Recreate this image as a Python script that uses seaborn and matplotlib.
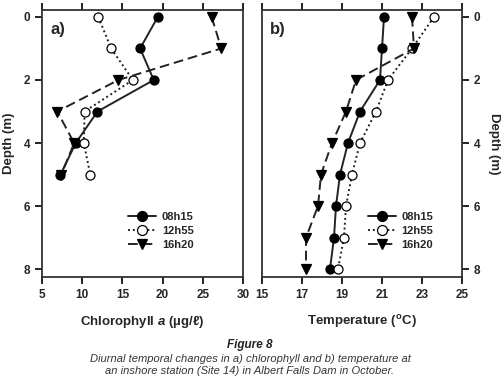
import numpy as np
import pandas as pd
import matplotlib
matplotlib.use("Agg")
import matplotlib.pyplot as plt
import seaborn as sns

sns.set_style("ticks")
plt.rcParams['font.family'] = ['Liberation Sans', 'DejaVu Sans']
plt.rcParams['mathtext.fontset'] = 'custom'
plt.rcParams['mathtext.it'] = 'Liberation Sans:italic:bold'
plt.rcParams['mathtext.rm'] = 'Liberation Sans:bold'

series = ["08h15", "12h55", "16h20"]

chl_depth = [0, 1, 2, 3, 4, 5]
chl_0815 = [19.4, 17.2, 18.9, 11.9, 9.2, 7.3]
chl_1255 = [12.0, 13.6, 16.3, 10.3, 10.2, 11.0]
chl_1620 = [26.1, 27.3, 14.5, 6.9, 9.0, 7.4]

temp_depth = [0, 1, 2, 3, 4, 5, 6, 7, 8]
temp_0815 = [21.1, 21.0, 20.9, 19.9, 19.3, 18.9, 18.7, 18.6, 18.4]
temp_1255 = [23.6, 22.5, 21.3, 20.7, 19.9, 19.5, 19.2, 19.1, 18.8]
temp_1620 = [22.5, 22.6, 19.7, 19.2, 18.5, 17.95, 17.8, 17.2, 17.2]

chl_ticks = [5, 10, 15, 20, 25, 30]
temp_ticks = [15, 17, 19, 21, 23, 25]
depth_ticks = [0, 2, 4, 6, 8]

styles = {
    "08h15": dict(ls='-', marker='o', mfc='black', dashes=None),
    "12h55": dict(ls=':', marker='o', mfc='white', dashes=(1, 1.5)),
    "16h20": dict(ls='--', marker='v', mfc='black', dashes=(5, 2.5)),
}

chl_df = pd.DataFrame({
    "depth": chl_depth * 3,
    "value": chl_0815 + chl_1255 + chl_1620,
    "time": sum([[s] * len(chl_depth) for s in series], []),
})
temp_df = pd.DataFrame({
    "depth": temp_depth * 3,
    "value": temp_0815 + temp_1255 + temp_1620,
    "time": sum([[s] * len(temp_depth) for s in series], []),
})

fig = plt.figure(figsize=(5.03, 3.82), dpi=100)
W, H = 503, 382
ax1 = fig.add_axes([42 / W, 1 - 277 / H, (243 - 42) / W, (277 - 10) / H])
ax2 = fig.add_axes([262 / W, 1 - 277 / H, (462 - 262) / W, (277 - 10) / H])

lc = '#222222'
for ax, df in [(ax1, chl_df), (ax2, temp_df)]:
    for s in series:
        st = styles[s]
        sub = df[df.time == s]
        sns.lineplot(data=sub, x="value", y="depth", sort=False, estimator=None,
                     ax=ax, color=lc, lw=1.4, linestyle=st['ls'], marker=st['marker'],
                     markersize=6.5, markerfacecolor=st['mfc'], markeredgecolor='black',
                     markeredgewidth=0.9, label=s)
        if st['dashes']:
            ax.lines[-1].set_dashes(st['dashes'])
    ax.set_ylim(8.25, -0.22)
    ax.set_yticks(depth_ticks)
    for sp in ax.spines.values():
        sp.set_visible(True)
        sp.set_linewidth(1.3)
        sp.set_color('#333333')

ax1.set_xlim(5, 30)
ax1.set_xticks(chl_ticks)
ax1.set_xlabel(r'Chlorophyll $a$ (µg/ℓ)', fontsize=9.5, fontweight='bold', labelpad=9)
ax1.set_ylabel('Depth (m)', fontsize=9.5, fontweight='bold', labelpad=6)

ax2.set_xlim(15, 25)
ax2.set_xticks(temp_ticks)
ax2.yaxis.set_label_position('right')
ax2.set_xlabel(r'Temperature ($^{\mathregular{o}}$C)', fontsize=9.5, fontweight='bold', labelpad=9)
ax2.set_ylabel('Depth (m)', fontsize=9.5, fontweight='bold', rotation=-90, labelpad=14)

for ax, lx in [(ax1, 0.43), (ax2, 0.53)]:
    leg = ax.legend(loc='upper left', frameon=False, fontsize=8, handlelength=2.5,
                    handletextpad=0.5, labelspacing=0.36, borderpad=0, borderaxespad=0,
                    bbox_to_anchor=(lx, 0.245), markerscale=1.1)
    for t in leg.get_texts():
        t.set_fontweight('bold')

ax1.text(0.04, 0.955, 'a)', transform=ax1.transAxes, fontsize=12, fontweight='bold', va='top')
ax2.text(0.04, 0.955, 'b)', transform=ax2.transAxes, fontsize=12, fontweight='bold', va='top')

fig.text(250 / W, 1 - 345 / H, 'Figure 8', ha='center', va='center', fontsize=8.5,
         fontweight='bold', style='italic', color='#222222')
fig.text(250 / W, 1 - 359 / H, 'Diurnal temporal changes in a) chlorophyll and b) temperature at',
         ha='center', va='center', fontsize=8, style='italic', color='#333333')
fig.text(250 / W, 1 - 371 / H, 'an inshore station (Site 14) in Albert Falls Dam in October.',
         ha='center', va='center', fontsize=8, style='italic', color='#333333')

# ticks last
ax1.tick_params(direction='out', length=5, width=1.4, color='#222222', labelsize=8.5,
                top=True, bottom=True, left=True, right=False)
ax2.tick_params(direction='out', length=5, width=1.4, color='#222222', labelsize=8.5,
                top=True, bottom=True, left=False, right=True,
                labelleft=False, labelright=True)
for ax in (ax1, ax2):
    for lab in ax.get_xticklabels() + ax.get_yticklabels():
        lab.set_fontweight('bold')

fig.savefig('out.png', dpi=100)
